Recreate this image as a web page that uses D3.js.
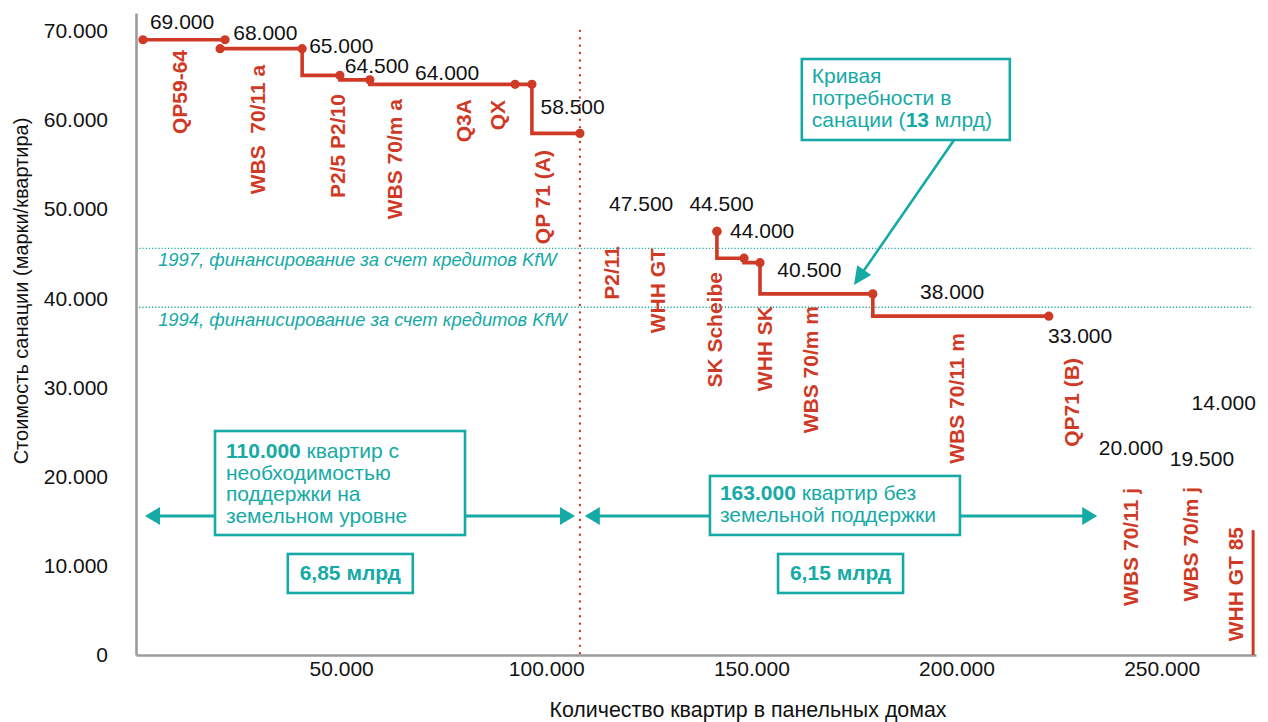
<!DOCTYPE html>
<html>
<head>
<meta charset="utf-8">
<script src="https://cdn.jsdelivr.net/npm/d3@7"></script>
<style>
  html, body { margin: 0; padding: 0; background: #fff; }
  svg { display: block; font-family: "Liberation Sans", Arial, sans-serif; }
  text { white-space: pre; }
</style>
</head>
<body>
<svg id="chart" width="1268" height="722"></svg>
<script>
// Renovation cost per apartment by panel building type,
// plotted against the cumulative number of apartments.

const xTicks = [50000, 100000, 150000, 200000, 250000];
const yTicks = [0, 10000, 20000, 30000, 40000, 50000, 60000, 70000];

// Steps of the demand curve: cost level and the apartment range it covers
const runValue  = [69000, 68000, 65000, 64500, 64000, 64000, 58500, 47500, 44500, 44000, 40500, 38000];
const runFrom   = [1700, 20500, 40500, 49700, 57000, 92400, 96500, 141600, 141600, 148200, 152100, 179600];
const runTo     = [21700, 40500, 49700, 57000, 92400, 96500, 108200, 141600, 148200, 152100, 179600, 222500];
const runJoined = [false, false, true, true, true, true, true, false, true, true, true, true];

// Last type: only its drop to zero at the end of the stock is drawn
const tailValue = 14000;
const tailAt = 272300;
const totalFlats = 273000;
const boundaryFlats = 108200;   // split between the two financing groups

const typeNames = ["QP59-64", "WBS  70/11 a", "P2/5 P2/10", "WBS 70/m a", "Q3A", "QX", "QP 71 (A)",
  "P2/11", "WHH GT", "SK Scheibe", "WHH SK", "WBS 70/m m", "WBS 70/11 m", "QP71 (B)",
  "WBS 70/11 j", "WBS 70/m j", "WHH GT 85"];
const costLabels = [69000, 68000, 65000, 64500, 64000, 58500, 47500, 44500, 44000, 40500, 38000,
  33000, 20000, 19500, 14000];

// KfW credit financing thresholds
const kfwLevels = [45600, 39000];
const kfwNotes = ["1997, финансирование за счет кредитов KfW", "1994, финанисирование за счет кредитов KfW"];

// Label anchors, in chart units [apartments, DM]
const typeNameAt = [[10700, 67850], [29700, 66200], [49200, 62900], [62900, 62350], [79700, 62350],
  [88000, 62240], [99000, 56630], [116000, 45870], [127000, 45640], [141100, 42950], [153100, 39140],
  [164500, 39140], [199900, 36110], [228100, 33300], [242500, 18730], [256900, 18840], [267900, 14360]];
const costLabelAt = [[3400, 70170], [23700, 68970], [42200, 67480], [50900, 65240], [68000, 64490],
  [98600, 60640], [115300, 49830], [134900, 49830], [144800, 46730], [156300, 42360], [191100, 39890],
  [222300, 35000], [234700, 22430], [252000, 21200], [257300, 27430]];
const kfwNoteAt = [[5400, 43630], [5400, 36900]];

const RED = "#cf3a26", TEAL = "#16aaa6", GREY = "#9b9b9b";
const FS = 21;
const fmt = v => d3.format(",")(v).replace(/,/g, ".");

const svg = d3.select("#chart");
const x = d3.scaleLinear().domain([0, totalFlats]).range([136, 1256]);
const y = d3.scaleLinear().domain([0, 72000]).range([655, 13]);

// KfW threshold lines and notes
svg.append("g").selectAll("line").data(kfwLevels).join("line")
  .attr("x1", x(0)).attr("x2", x(tailAt))
  .attr("y1", d => y(d)).attr("y2", d => y(d))
  .attr("stroke", TEAL).attr("stroke-width", 1.3).attr("stroke-dasharray", "1.2,2");
svg.append("g").selectAll("text").data(kfwNotes).join("text")
  .attr("x", (d, i) => x(kfwNoteAt[i][0])).attr("y", (d, i) => y(kfwNoteAt[i][1]))
  .attr("fill", TEAL).attr("font-size", 18.4).attr("font-style", "italic")
  .text(d => d);

// Boundary between apartments with and without state support
svg.append("line")
  .attr("x1", x(boundaryFlats)).attr("x2", x(boundaryFlats))
  .attr("y1", y(70000)).attr("y2", y(0))
  .attr("stroke", RED).attr("stroke-width", 2.4)
  .attr("stroke-linecap", "round").attr("stroke-dasharray", "0.01,7.4");

// Axes
const xAxis = svg.append("g").attr("transform", `translate(0,${y(0)})`)
  .call(d3.axisBottom(x).tickValues(xTicks).tickSize(0).tickSizeOuter(0).tickPadding(6).tickFormat(fmt));
const yAxis = svg.append("g").attr("transform", `translate(${x(0)},0)`)
  .call(d3.axisLeft(y).tickValues(yTicks).tickSize(0).tickSizeOuter(0).tickPadding(28).tickFormat(fmt));
[xAxis, yAxis].forEach(g => {
  g.attr("font-family", null).attr("font-size", FS);
  g.select(".domain").attr("stroke", GREY).attr("stroke-width", 2.6);
  g.selectAll(".tick text").attr("fill", "#111");
});

svg.append("text")
  .attr("x", 748).attr("y", 717).attr("text-anchor", "middle")
  .attr("font-size", 21.4).attr("fill", "#111")
  .text("Количество квартир в панельных домах");
svg.append("text")
  .attr("transform", "translate(28,291) rotate(-90)").attr("text-anchor", "middle")
  .attr("font-size", 20).attr("fill", "#111")
  .text("Стоимость санации (марки/квартира)");

// Demand curve
const runs = runValue.map((v, i) => ({ v, x0: runFrom[i], x1: runTo[i], joined: runJoined[i] }));
const groups = [];
runs.forEach(r => {
  if (!r.joined) groups.push([[r.x0, r.v]]);
  else groups[groups.length - 1].push([r.x0, r.v]);
  groups[groups.length - 1].push([r.x1, r.v]);
});
const line = d3.line().x(d => x(d[0])).y(d => y(d[1]));
svg.append("g").selectAll("path").data(groups).join("path")
  .attr("d", line).attr("fill", "none")
  .attr("stroke", RED).attr("stroke-width", 3.6).attr("stroke-linejoin", "miter");

const dots = [];
runs.forEach(r => {
  if (!r.joined) dots.push([r.x0, r.v]);
  dots.push([r.x1, r.v]);
});
svg.append("g").selectAll("circle").data(dots).join("circle")
  .attr("cx", d => x(d[0])).attr("cy", d => y(d[1])).attr("r", 4.6).attr("fill", RED);

svg.append("line")
  .attr("x1", x(tailAt)).attr("x2", x(tailAt))
  .attr("y1", y(tailValue)).attr("y2", y(0))
  .attr("stroke", RED).attr("stroke-width", 3);

// Cost labels
svg.append("g").selectAll("text").data(costLabels).join("text")
  .attr("x", (d, i) => x(costLabelAt[i][0])).attr("y", (d, i) => y(costLabelAt[i][1]))
  .attr("font-size", FS).attr("fill", "#111")
  .text(fmt);

// Building type names, vertical
svg.append("g").selectAll("text").data(typeNames).join("text")
  .attr("transform", (d, i) => `translate(${x(typeNameAt[i][0])},${y(typeNameAt[i][1])}) rotate(-90)`)
  .attr("text-anchor", "end").attr("dy", "0.36em")
  .attr("font-size", FS).attr("font-weight", "bold").attr("fill", RED)
  .text(d => d);

// Annotation helpers
function textBox(cfg) {
  const g = svg.append("g");
  const left = x(cfg.at[0]), top = y(cfg.at[1]);
  g.append("rect")
    .attr("x", left).attr("y", top).attr("width", cfg.w).attr("height", cfg.h)
    .attr("fill", "#fff").attr("stroke", TEAL).attr("stroke-width", 2.6);
  const t = g.append("text").attr("font-size", FS).attr("fill", TEAL);
  if (cfg.center) t.attr("text-anchor", "middle");
  cfg.lines.forEach((parts, i) => {
    parts.forEach((p, j) => {
      const ts = t.append("tspan").text(p[0]).attr("font-weight", p[1] ? "bold" : null);
      if (j === 0) ts.attr("x", cfg.center ? left + cfg.w / 2 : left + cfg.pad)
        .attr("y", top + cfg.first + i * cfg.lead);
    });
  });
}
function arrowHead(tipX, tipY, angle, len, half) {
  const c = Math.cos(angle), s = Math.sin(angle);
  const bx = tipX - c * len, by = tipY - s * len;
  svg.append("path")
    .attr("d", `M${tipX},${tipY}L${bx - s * half},${by + c * half}L${bx + s * half},${by - c * half}Z`)
    .attr("fill", TEAL);
}
function rangeArrow(from, to, level) {
  const yy = y(level), x0 = x(from), x1 = x(to);
  svg.append("line").attr("x1", x0 + 10).attr("x2", x1 - 10).attr("y1", yy).attr("y2", yy)
    .attr("stroke", TEAL).attr("stroke-width", 3);
  arrowHead(x0, yy, Math.PI, 15, 9);
  arrowHead(x1, yy, 0, 15, 9);
}

// Apartment ranges of the two groups
rangeArrow(2200, 107000, 15590);
rangeArrow(109400, 234300, 15590);

textBox({ at: [19260, 25120], w: 250, h: 104, pad: 11, first: 27, lead: 21.7,
  lines: [[["110.000", true], [" квартир с", false]], [["необходимостью", false]],
          [["поддержки на", false]], [["земельном уровне", false]]] });
textBox({ at: [139900, 20080], w: 250, h: 59, pad: 10, first: 24.5, lead: 21.7,
  lines: [[["163.000", true], [" квартир без", false]], [["земельной поддержки", false]]] });
textBox({ at: [37000, 11330], w: 125, h: 39, center: true, first: 26.5, lead: 0,
  lines: [[["6,85 млрд", true]]] });
textBox({ at: [156500, 11330], w: 125, h: 39, center: true, first: 26.5, lead: 0,
  lines: [[["6,15 млрд", true]]] });

// Callout for the demand curve
{
  const sx = x(199400), sy = y(57760), tx = x(175000), ty = y(41500);
  const ang = Math.atan2(ty - sy, tx - sx);
  svg.append("line").attr("x1", sx).attr("y1", sy)
    .attr("x2", tx - Math.cos(ang) * 12).attr("y2", ty - Math.sin(ang) * 12)
    .attr("stroke", TEAL).attr("stroke-width", 2.6);
  arrowHead(tx, ty, ang, 18, 8.5);
}
textBox({ at: [162300, 66840], w: 208, h: 81, pad: 10, first: 24, lead: 22,
  lines: [[["Кривая", false]], [["потребности в", false]],
          [["санации (", false], ["13", true], [" млрд)", false]]] });
</script>
</body>
</html>
